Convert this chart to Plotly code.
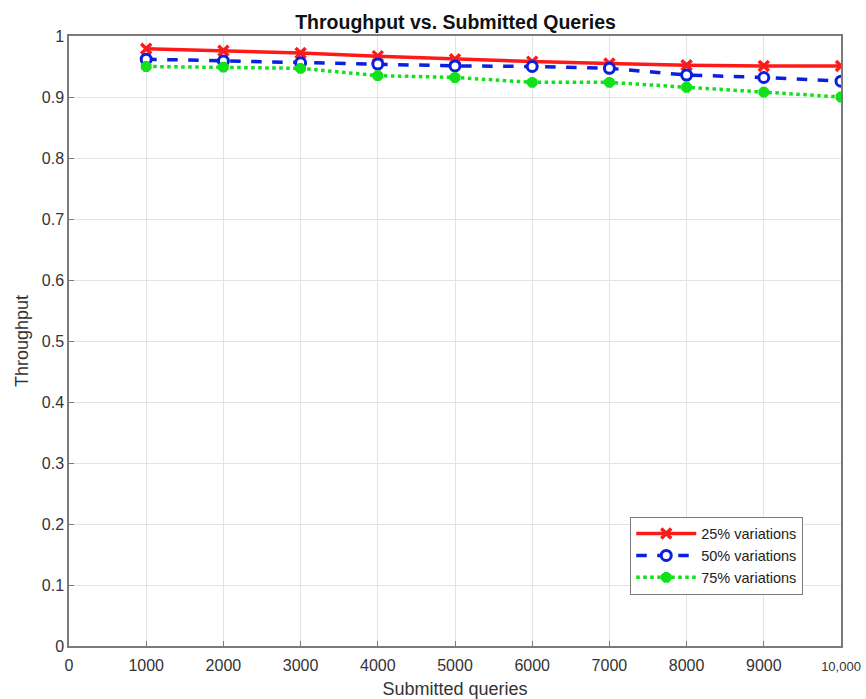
import plotly.graph_objects as go

queries = [1000, 2000, 3000, 4000, 5000, 6000, 7000, 8000, 9000, 10000]
var25 = [0.979, 0.976, 0.972, 0.967, 0.962, 0.958, 0.955, 0.952, 0.951, 0.951]
var50 = [0.962, 0.959, 0.956, 0.954, 0.951, 0.950, 0.947, 0.936, 0.932, 0.926]
var75 = [0.950, 0.949, 0.947, 0.935, 0.932, 0.924, 0.924, 0.916, 0.908, 0.900]

x_tickvals = [0, 1000, 2000, 3000, 4000, 5000, 6000, 7000, 8000, 9000, 10000]
x_ticktext = ["0", "1000", "2000", "3000", "4000", "5000", "6000", "7000", "8000", "9000",
              "<span style='font-size:13px'>10,000</span>"]
y_tickvals = [0, 0.1, 0.2, 0.3, 0.4, 0.5, 0.6, 0.7, 0.8, 0.9, 1]
y_ticktext = ["0", "0.1", "0.2", "0.3", "0.4", "0.5", "0.6", "0.7", "0.8", "0.9", "1"]

FONT = "Liberation Sans, Arial, sans-serif"

fig = go.Figure()
fig.add_trace(go.Scatter(
    x=queries, y=var25, name="25% variations", mode="lines+markers",
    line=dict(color="#ff1a1a", width=3.5),
    marker=dict(symbol="x-thin-open", size=10, line=dict(color="#ff1a1a", width=3.5)),
))
fig.add_trace(go.Scatter(
    x=queries, y=var50, name="50% variations", mode="lines+markers",
    line=dict(color="#0a1fe0", width=3.5, dash="dash"),
    marker=dict(symbol="circle", size=10, color="white", line=dict(color="#0a1fe0", width=3)),
))
fig.add_trace(go.Scatter(
    x=queries, y=var75, name="75% variations", mode="lines+markers",
    line=dict(color="#12e01a", width=3.5, dash="dot"),
    marker=dict(symbol="asterisk-open", size=9, line=dict(color="#12e01a", width=4.5)),
))

axis_common = dict(
    showgrid=True, gridcolor="#e3e3e3", gridwidth=1,
    showline=True, linecolor="#7a7a7a", linewidth=1.5, mirror=True,
    ticks="inside", ticklen=5, tickcolor="#7a7a7a",
    zeroline=False, automargin=False,
    tickfont=dict(family=FONT, size=16, color="#333333"),
)

fig.update_layout(
    width=866, height=699,
    margin=dict(l=69, r=25, t=36, b=53),
    paper_bgcolor="white", plot_bgcolor="white",
    font=dict(family=FONT, color="#333333"),
    title=dict(text="<b>Throughput vs. Submitted Queries</b>", x=0.526, xanchor="center",
               y=0.968, yanchor="middle",
               font=dict(size=19.5, color="#111111")),
    xaxis=dict(range=[0, 10000], tickvals=x_tickvals, ticktext=x_ticktext,
               ticklabelstandoff=4,
               title=dict(text="Submitted queries", font=dict(size=18, color="#333333"), standoff=9),
               **axis_common),
    yaxis=dict(range=[0, 1], tickvals=y_tickvals, ticktext=y_ticktext,
               title=dict(text="Throughput", font=dict(size=18, color="#333333"), standoff=8),
               **axis_common),
    legend=dict(x=0.727, y=0.212, xanchor="left", yanchor="top",
                bgcolor="white", bordercolor="#7a7a7a", borderwidth=1,
                font=dict(size=14.5, color="#222222"),
                tracegroupgap=0, itemwidth=60),
    showlegend=True,
)

fig.write_html("out.html")
